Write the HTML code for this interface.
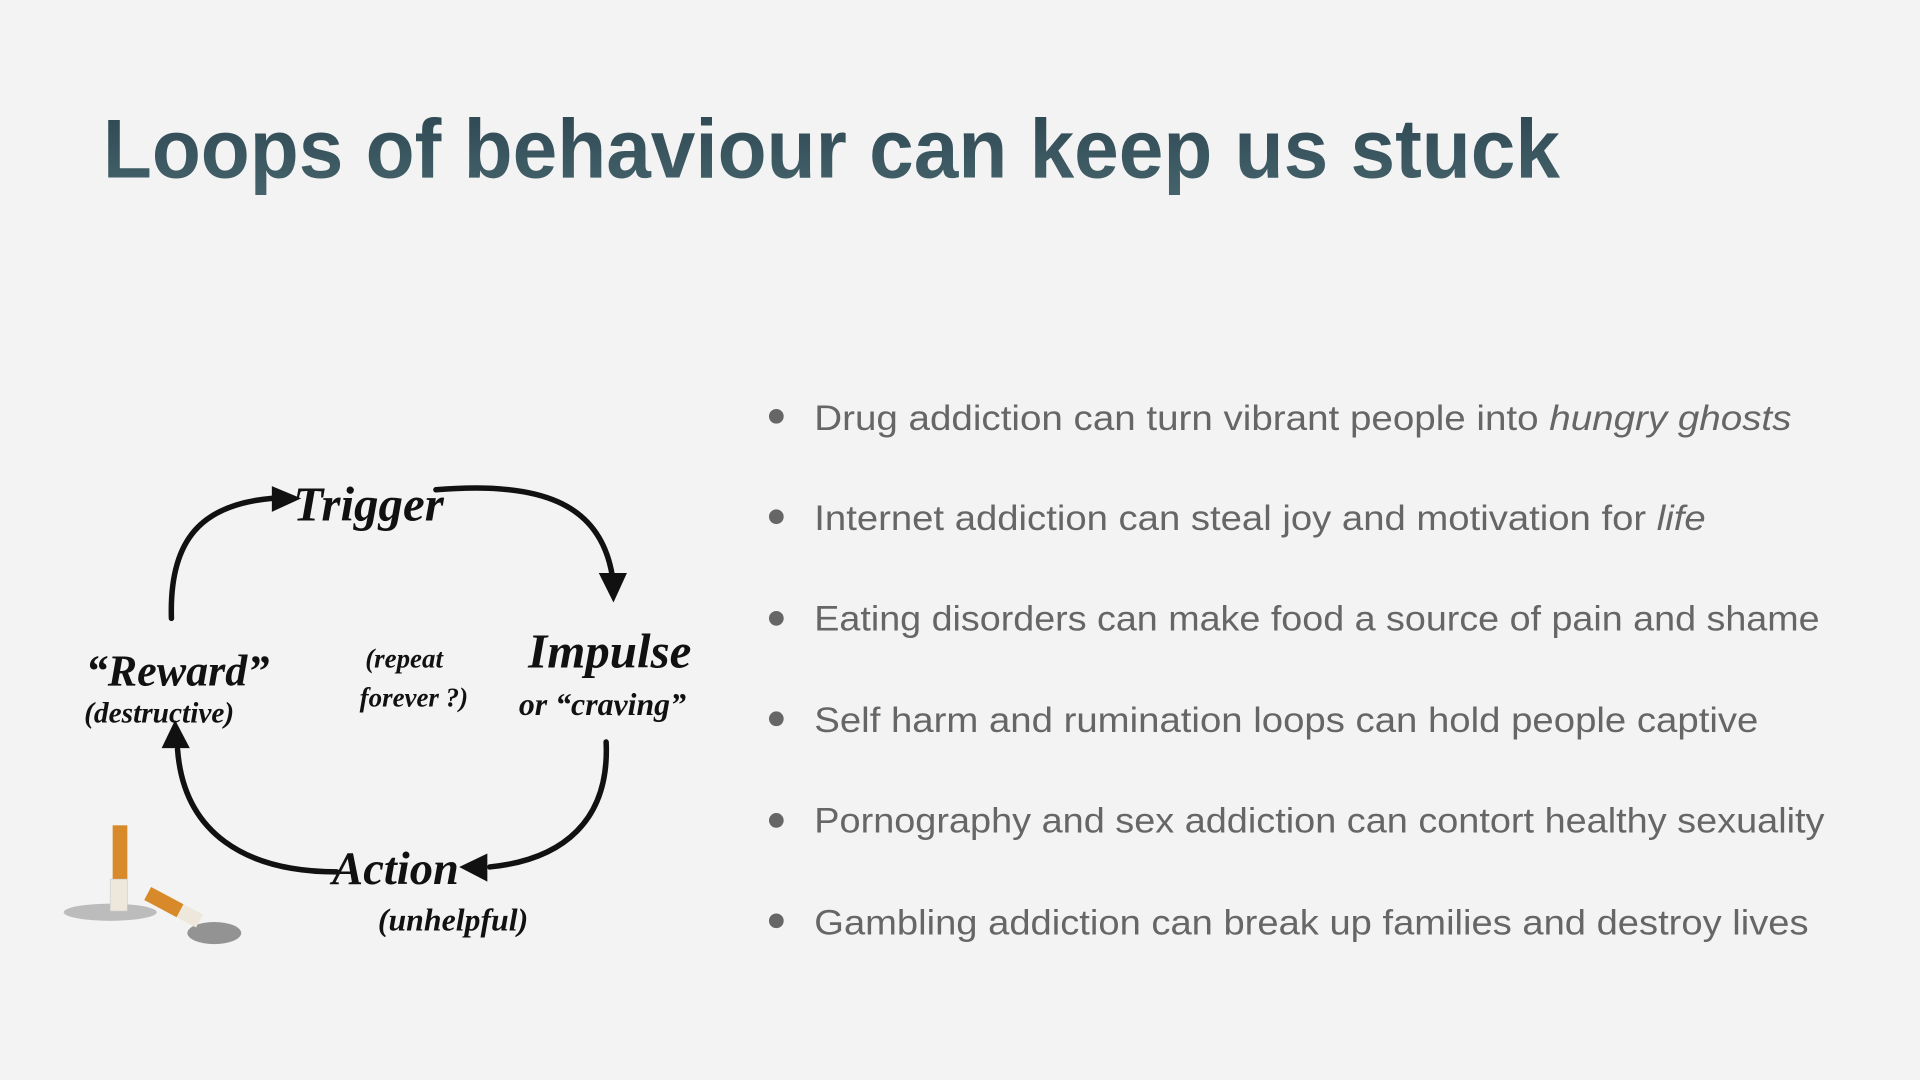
<!DOCTYPE html>
<html><head><meta charset="utf-8"><style>
html,body{margin:0;padding:0;background:#f3f3f3;overflow:hidden}
svg{display:block}
.hand{font-family:"Liberation Serif",serif;font-style:italic;font-weight:bold;fill:#111}
</style></head><body>
<svg width="1920" height="1080" viewBox="0 0 1568 882">
<defs>
<linearGradient id="tg" x1="0" y1="0" x2="0" y2="1"><stop offset="0" stop-color="#2c4650"/><stop offset="1" stop-color="#46636c"/></linearGradient>
</defs>
<rect width="1568" height="882" fill="#f3f3f3"/>
<text x="84" y="145" font-family="Liberation Sans, sans-serif" font-weight="bold" font-size="68" fill="url(#tg)" textLength="1190" lengthAdjust="spacingAndGlyphs">Loops of behaviour can keep us stuck</text>

<g fill="none" stroke="#111" stroke-width="4.5" stroke-linecap="round">
<path d="M140 505 C138 440 165 412 222 407"/>
<path d="M222 397 L246 407 L222 418 Z" fill="#111" stroke="none"/>
<path d="M356 400 C440 393 490 410 500 470"/>
<path d="M489 468 L501 492 L512 468 Z" fill="#111" stroke="none"/>
<path d="M495 606 C498 670 460 702 400 708"/>
<path d="M398 697 L375 708 L398 720 Z" fill="#111" stroke="none"/>
<path d="M275 712 C200 712 150 680 145 612"/>
<path d="M132 611 L143 588 L155 611 Z" fill="#111" stroke="none"/>
</g>
<text class="hand" x="301" y="425" font-size="40" text-anchor="middle">Trigger</text>
<text class="hand" x="498" y="545" font-size="40" text-anchor="middle">Impulse</text>
<text class="hand" x="492" y="584" font-size="26" text-anchor="middle">or “craving”</text>
<text class="hand" x="323" y="722" font-size="38" text-anchor="middle">Action</text>
<text class="hand" x="370" y="760" font-size="26" text-anchor="middle">(unhelpful)</text>
<text class="hand" x="145" y="560" font-size="36" text-anchor="middle">“Reward”</text>
<text class="hand" x="130" y="590" font-size="24" text-anchor="middle">(destructive)</text>
<text class="hand" x="330" y="545" font-size="22" text-anchor="middle">(repeat</text>
<text class="hand" x="338" y="577" font-size="22" text-anchor="middle">forever ?)</text>

<g>
<ellipse cx="90" cy="745" rx="38" ry="7" fill="#555" opacity="0.35"/>
<ellipse cx="175" cy="762" rx="22" ry="9" fill="#333" opacity="0.5"/>
<rect x="92" y="674" width="12" height="45" fill="#d88a2a"/>
<rect x="90" y="718" width="14" height="26" fill="#eee8dc" stroke="#ccc" stroke-width="0.5"/>
<g transform="rotate(28 140 740)"><rect x="118" y="734" width="30" height="12" fill="#d88a2a"/><rect x="148" y="734" width="18" height="12" fill="#eee8dc"/></g>
</g>

<g font-family="Liberation Sans, sans-serif" font-size="29" fill="#666">
<g><circle cx="634" cy="340" r="6" fill="#666"/><text x="665" y="351" textLength="798" lengthAdjust="spacingAndGlyphs">Drug addiction can turn vibrant people into <tspan font-style="italic">hungry ghosts</tspan></text></g>
<g><circle cx="634" cy="422" r="6" fill="#666"/><text x="665" y="433" textLength="728" lengthAdjust="spacingAndGlyphs">Internet addiction can steal joy and motivation for <tspan font-style="italic">life</tspan></text></g>
<g><circle cx="634" cy="505" r="6" fill="#666"/><text x="665" y="515" textLength="821" lengthAdjust="spacingAndGlyphs">Eating disorders can make food a source of pain and shame</text></g>
<g><circle cx="634" cy="587" r="6" fill="#666"/><text x="665" y="598" textLength="771" lengthAdjust="spacingAndGlyphs">Self harm and rumination loops can hold people captive</text></g>
<g><circle cx="634" cy="670" r="6" fill="#666"/><text x="665" y="680" textLength="825" lengthAdjust="spacingAndGlyphs">Pornography and sex addiction can contort healthy sexuality</text></g>
<g><circle cx="634" cy="752" r="6" fill="#666"/><text x="665" y="763" textLength="812" lengthAdjust="spacingAndGlyphs">Gambling addiction can break up families and destroy lives</text></g>
</g>
</svg>
</body></html>
